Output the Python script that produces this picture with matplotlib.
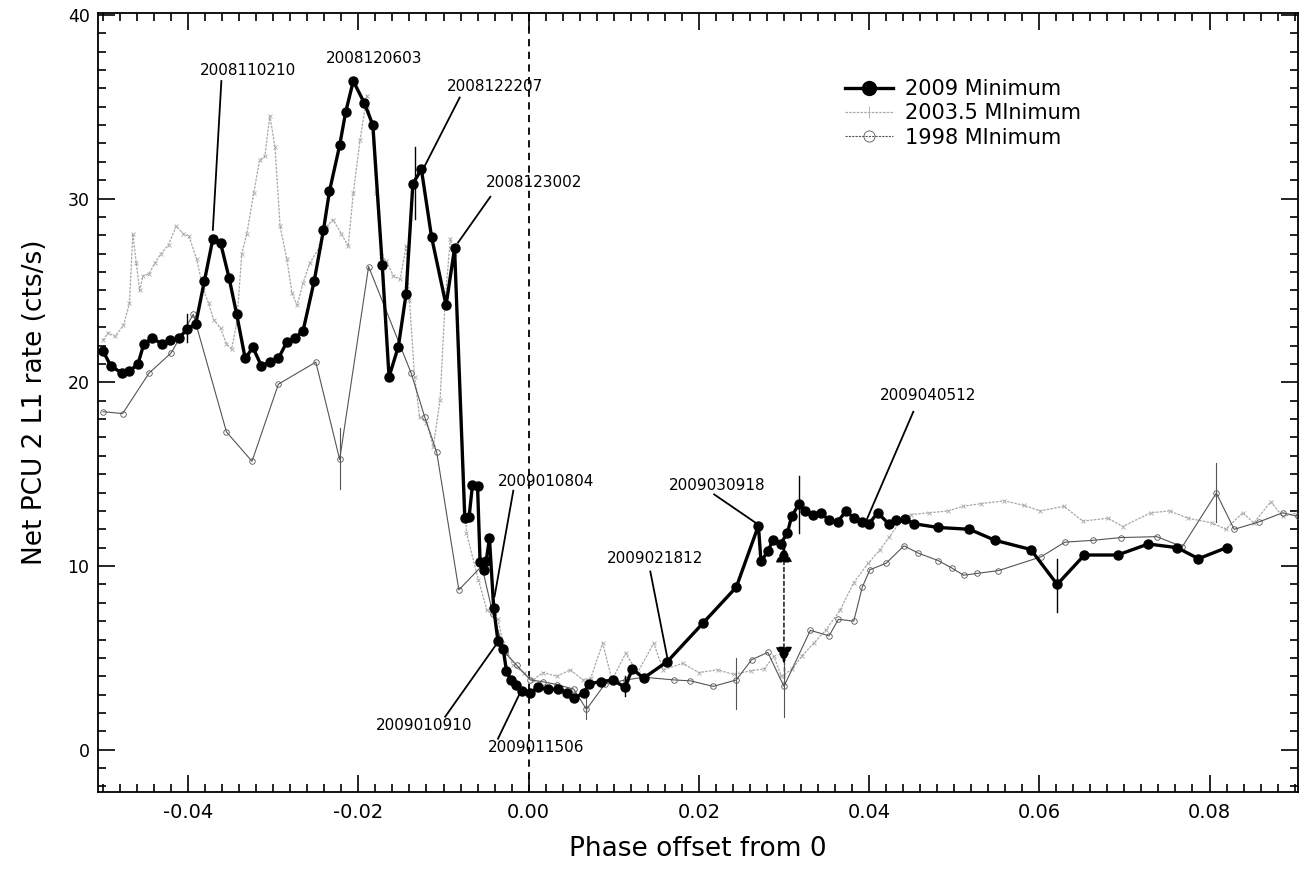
import matplotlib
matplotlib.use('Agg')
import matplotlib.pyplot as plt
from matplotlib.lines import Line2D
from matplotlib.ticker import MultipleLocator, FormatStrFormatter

# 2009 minimum (thick black, filled circles)
phase_09 = [-0.0500, -0.0491, -0.0478, -0.0469, -0.0459, -0.0452, -0.0442, -0.0431, -0.0421, -0.0411,
            -0.0401, -0.0391, -0.0381, -0.0371, -0.0362, -0.0352, -0.0343, -0.0333, -0.0324, -0.0314,
            -0.0304, -0.0294, -0.0284, -0.0275, -0.0265, -0.0252, -0.0241, -0.0234, -0.0222, -0.0215,
            -0.0206, -0.0193, -0.0183, -0.0172, -0.0164, -0.0153, -0.0144, -0.0136, -0.0126, -0.0114,
            -0.0097, -0.0087, -0.0075, -0.0070, -0.0066, -0.0060, -0.0057, -0.0052, -0.0050, -0.0046,
            -0.0041, -0.0036, -0.0030, -0.0026, -0.0021, -0.0015, -0.0008, 0.0002, 0.0011, 0.0023,
            0.0035, 0.0045, 0.0053, 0.0065, 0.0071, 0.0085, 0.0099, 0.0113, 0.0122, 0.0135,
            0.0163, 0.0205, 0.0244, 0.0270, 0.0273, 0.0281, 0.0287, 0.0296, 0.0304, 0.0309,
            0.0318, 0.0325, 0.0334, 0.0343, 0.0353, 0.0363, 0.0373, 0.0382, 0.0392, 0.0400,
            0.0410, 0.0423, 0.0432, 0.0442, 0.0453, 0.0481, 0.0518, 0.0548, 0.0590, 0.0621,
            0.0653, 0.0692, 0.0728, 0.0762, 0.0787, 0.0820]
rate_09 = [21.7, 20.9, 20.5, 20.6, 21.0, 22.1, 22.4, 22.1, 22.3, 22.4,
           22.9, 23.2, 25.5, 27.8, 27.6, 25.7, 23.7, 21.3, 21.9, 20.9,
           21.1, 21.3, 22.2, 22.4, 22.8, 25.5, 28.3, 30.4, 32.9, 34.7,
           36.4, 35.2, 34.0, 26.4, 20.3, 21.95, 24.8, 30.8, 31.6, 27.9,
           24.2, 27.3, 12.6, 12.65, 14.4, 14.35, 10.2, 9.8, 10.25, 11.5,
           7.7, 5.9, 5.5, 4.3, 3.8, 3.5, 3.2, 3.1, 3.4, 3.3,
           3.3, 3.1, 2.8, 3.1, 3.6, 3.7, 3.8, 3.4, 4.4, 3.9,
           4.8, 6.9, 8.85, 12.2, 10.25, 10.8, 11.4, 11.2, 11.8, 12.7,
           13.4, 13.0, 12.8, 12.9, 12.5, 12.4, 13.0, 12.6, 12.4, 12.3,
           12.9, 12.3, 12.5, 12.55, 12.3, 12.1, 12.0, 11.4, 10.9, 9.0,
           10.6, 10.6, 11.2, 11.0, 10.4, 11.0]

# 2003.5 minimum (light grey, x markers)
phase_03 = [-0.0500, -0.0494, -0.0486, -0.0476, -0.0469, -0.0465, -0.0461, -0.0457, -0.0453, -0.0446,
            -0.0439, -0.0432, -0.0423, -0.0414, -0.0406, -0.0399, -0.0390, -0.0382, -0.0376, -0.0370,
            -0.0362, -0.0355, -0.0349, -0.0343, -0.0337, -0.0331, -0.0323, -0.0316, -0.0310, -0.0304,
            -0.0298, -0.0292, -0.0284, -0.0278, -0.0272, -0.0265, -0.0257, -0.0245, -0.0237, -0.0230,
            -0.0220, -0.0212, -0.0206, -0.0198, -0.0190, -0.0184, -0.0179, -0.0173, -0.0167, -0.0159,
            -0.0151, -0.0144, -0.0140, -0.0134, -0.0128, -0.0120, -0.0112, -0.0104, -0.0098, -0.0092,
            -0.0087, -0.0073, -0.0059, -0.0049, -0.0036, -0.0030, -0.0018, -0.0006, 0.0005, 0.0017,
            0.0033, 0.0049, 0.0064, 0.0073, 0.0087, 0.0098, 0.0114, 0.0128, 0.0147, 0.0158,
            0.0181, 0.0200, 0.0222, 0.0241, 0.0261, 0.0277, 0.0288, 0.0297, 0.0310, 0.0321,
            0.0335, 0.0349, 0.0366, 0.0382, 0.0399, 0.0413, 0.0424, 0.0438, 0.0449, 0.0471,
            0.0493, 0.0510, 0.0532, 0.0559, 0.0582, 0.0601, 0.0629, 0.0651, 0.0681, 0.0698,
            0.0731, 0.0753, 0.0775, 0.0803, 0.0819, 0.0839, 0.0852, 0.0872, 0.0886, 0.0904]
rate_03 = [22.3, 22.7, 22.5, 23.1, 24.3, 28.1, 26.5, 25.0, 25.8, 25.9,
           26.5, 27.0, 27.5, 28.5, 28.1, 27.95, 26.7, 25.0, 24.3, 23.4,
           22.95, 22.1, 21.8, 23.2, 27.0, 28.1, 30.3, 32.1, 32.3, 34.5,
           32.8, 28.5, 26.7, 24.85, 24.2, 25.4, 26.5, 27.4, 28.5, 28.85,
           28.1, 27.4, 30.3, 33.2, 35.6, 33.9, 30.3, 26.9, 26.6, 25.8,
           25.6, 27.4, 24.5, 20.3, 18.1, 17.8, 16.5, 19.05, 24.5, 27.8,
           27.0, 11.8, 9.25, 7.6, 7.1, 5.8, 4.6, 4.2, 3.8, 4.2,
           4.0, 4.35, 3.8, 3.9, 5.8, 3.8, 5.25, 4.2, 5.8, 4.35,
           4.7, 4.2, 4.35, 4.1, 4.3, 4.4, 5.1, 4.0, 4.4, 5.1,
           5.8, 6.5, 7.6, 9.1, 10.15, 10.9, 11.6, 12.5, 12.8, 12.9,
           13.0, 13.25, 13.4, 13.55, 13.3, 13.0, 13.25, 12.45, 12.6, 12.15,
           12.9, 13.0, 12.6, 12.35, 12.0, 12.9, 12.35, 13.5, 12.7, 12.9]

# 1998 minimum (dark grey, open circles)
phase_98 = [-0.0500, -0.0477, -0.0446, -0.0420, -0.0394, -0.0355, -0.0325, -0.0294, -0.0250, -0.0222,
            -0.0188, -0.0138, -0.0122, -0.0108, -0.0082, -0.0055, -0.0042, -0.0028, -0.0014, 0.0002,
            0.0017, 0.0033, 0.0053, 0.0068, 0.0090, 0.0115, 0.0135, 0.0171, 0.0190, 0.0217,
            0.0244, 0.0262, 0.0281, 0.0300, 0.0331, 0.0353, 0.0364, 0.0382, 0.0392, 0.0401,
            0.0420, 0.0441, 0.0458, 0.0481, 0.0497, 0.0511, 0.0527, 0.0552, 0.0602, 0.0630,
            0.0663, 0.0696, 0.0738, 0.0768, 0.0808, 0.0829, 0.0858, 0.0886, 0.0904]
rate_98 = [18.4, 18.3, 20.5, 21.6, 23.7, 17.3, 15.7, 19.9, 21.1, 15.8,
           26.3, 20.5, 18.1, 16.2, 8.7, 10.0, 7.4, 5.3, 4.6, 3.8,
           3.7, 3.55, 3.3, 2.2, 3.6, 3.8, 3.95, 3.8, 3.75, 3.45,
           3.8, 4.9, 5.3, 3.45, 6.5, 6.2, 7.1, 7.0, 8.85, 9.8,
           10.15, 11.1, 10.7, 10.3, 9.9, 9.5, 9.6, 9.75, 10.5, 11.3,
           11.4, 11.55, 11.6, 11.05, 13.97, 12.0, 12.4, 12.9, 12.7]

# error bars (x, low, high)
err_09 = [(-0.0401, 22.2, 23.7), (-0.0133, 28.9, 32.8), (0.0113, 2.9, 4.0),
          (0.0318, 11.8, 14.9), (0.0621, 7.5, 10.4)]
err_98 = [(-0.0222, 14.2, 17.5), (0.0068, 1.7, 3.4), (0.0244, 2.2, 5.0),
          (0.0300, 1.8, 5.4), (0.0808, 12.4, 15.6)]

# date labels: (text, text x, text y, line from, line to)
labels = [
    ("2008110210", -0.0330, 37.0, (-0.0361, 36.4), (-0.0371, 28.3)),
    ("2008120603", -0.0181, 37.6, None, None),
    ("2008122207", -0.0040, 36.1, (-0.0081, 35.5), (-0.0124, 31.6)),
    ("2008123002", 0.0006, 30.9, (-0.0045, 30.1), (-0.0083, 27.6)),
    ("2009010804", 0.0021, 14.6, (-0.0018, 14.1), (-0.0040, 8.35)),
    ("2009010910", -0.0123, 1.3, (-0.0098, 1.8), (-0.0037, 5.8)),
    ("2009011506", 0.0009, 0.1, (-0.0036, 0.6), (-0.0010, 3.1)),
    ("2009021812", 0.0149, 10.4, (0.0143, 9.7), (0.0163, 5.0)),
    ("2009030918", 0.0221, 14.4, (0.0218, 13.9), (0.0270, 12.25)),
    ("2009040512", 0.0469, 19.3, (0.0452, 18.4), (0.0397, 12.5)),
]

fig = plt.figure(figsize=(13.13, 8.71), dpi=100)
ax = fig.add_axes([0.0746, 0.0907, 0.914, 0.8943])

ax.plot(phase_03, rate_03, color='#a8a8a8', lw=0.9, ls=(0, (2, 1)), marker='x', ms=3.5, mew=0.6, zorder=2)
ax.plot(phase_98, rate_98, color='#555555', lw=0.8, marker='o', ms=4, mfc='none', mew=0.6, zorder=3)
ax.plot(phase_09, rate_09, color='black', lw=2.4, marker='o', ms=6.5, zorder=4)

for x, lo, hi in err_09:
    ax.plot([x, x], [lo, hi], color='black', lw=1.0, zorder=4)
for x, lo, hi in err_98:
    ax.plot([x, x], [lo, hi], color='#555555', lw=0.8, zorder=3)

ax.axvline(0, color='black', lw=1.3, ls=(0, (4, 3)), zorder=1)

# arrow showing the delay at phase 0.03
ax.annotate('', xy=(0.0300, 11.1), xytext=(0.0300, 4.7),
            arrowprops=dict(arrowstyle='<|-|>', color='black', lw=1.0, ls=(0, (3, 2)),
                            mutation_scale=26, shrinkA=0, shrinkB=0))
ax.plot([0.0300, 0.0300], [3.5, 4.7], color='black', lw=1.0, ls=(0, (3, 2)))

for text, tx, ty, p0, p1 in labels:
    ax.text(tx, ty, text, fontsize=11, ha='center', va='center')
    if p0 is not None:
        ax.plot([p0[0], p1[0]], [p0[1], p1[1]], color='black', lw=1.3)

ax.set_xlim(-0.0506, 0.0904)
ax.set_ylim(-2.3, 40.1)
ax.xaxis.set_major_locator(MultipleLocator(0.02))
ax.xaxis.set_minor_locator(MultipleLocator(0.002))
ax.xaxis.set_major_formatter(FormatStrFormatter('%.2f'))
ax.yaxis.set_major_locator(MultipleLocator(10))
ax.yaxis.set_minor_locator(MultipleLocator(1))
ax.tick_params(which='both', direction='in', top=True, right=True, width=1.2)
ax.tick_params(which='major', length=12)
ax.tick_params(which='minor', length=6)
ax.tick_params(axis='x', labelsize=14, pad=8)
ax.tick_params(axis='y', labelsize=12.5, pad=6)
for s in ax.spines.values():
    s.set_linewidth(1.3)

ax.set_xlabel("Phase offset from 0", fontsize=19, labelpad=10)
ax.set_ylabel("Net PCU 2 L1 rate (cts/s)", fontsize=19, labelpad=14)

handles = [
    Line2D([], [], color='black', lw=2.4, marker='o', ms=10),
    Line2D([], [], color='#a8a8a8', lw=0.9, ls=(0, (2, 1)), marker='|', ms=8, mew=0.6),
    Line2D([], [], color='#555555', lw=0.8, ls=(0, (2, 1)), marker='o', ms=8, mfc='none', mew=0.6),
]
ax.legend(handles, ["2009 Minimum", "2003.5 MInimum", "1998 MInimum"],
          loc='upper left', bbox_to_anchor=(0.6225, 0.915), frameon=False, fontsize=15,
          handlelength=2.3, handletextpad=0.6, labelspacing=0.2, borderpad=0, borderaxespad=0)

fig.savefig('out.png', dpi=100)
